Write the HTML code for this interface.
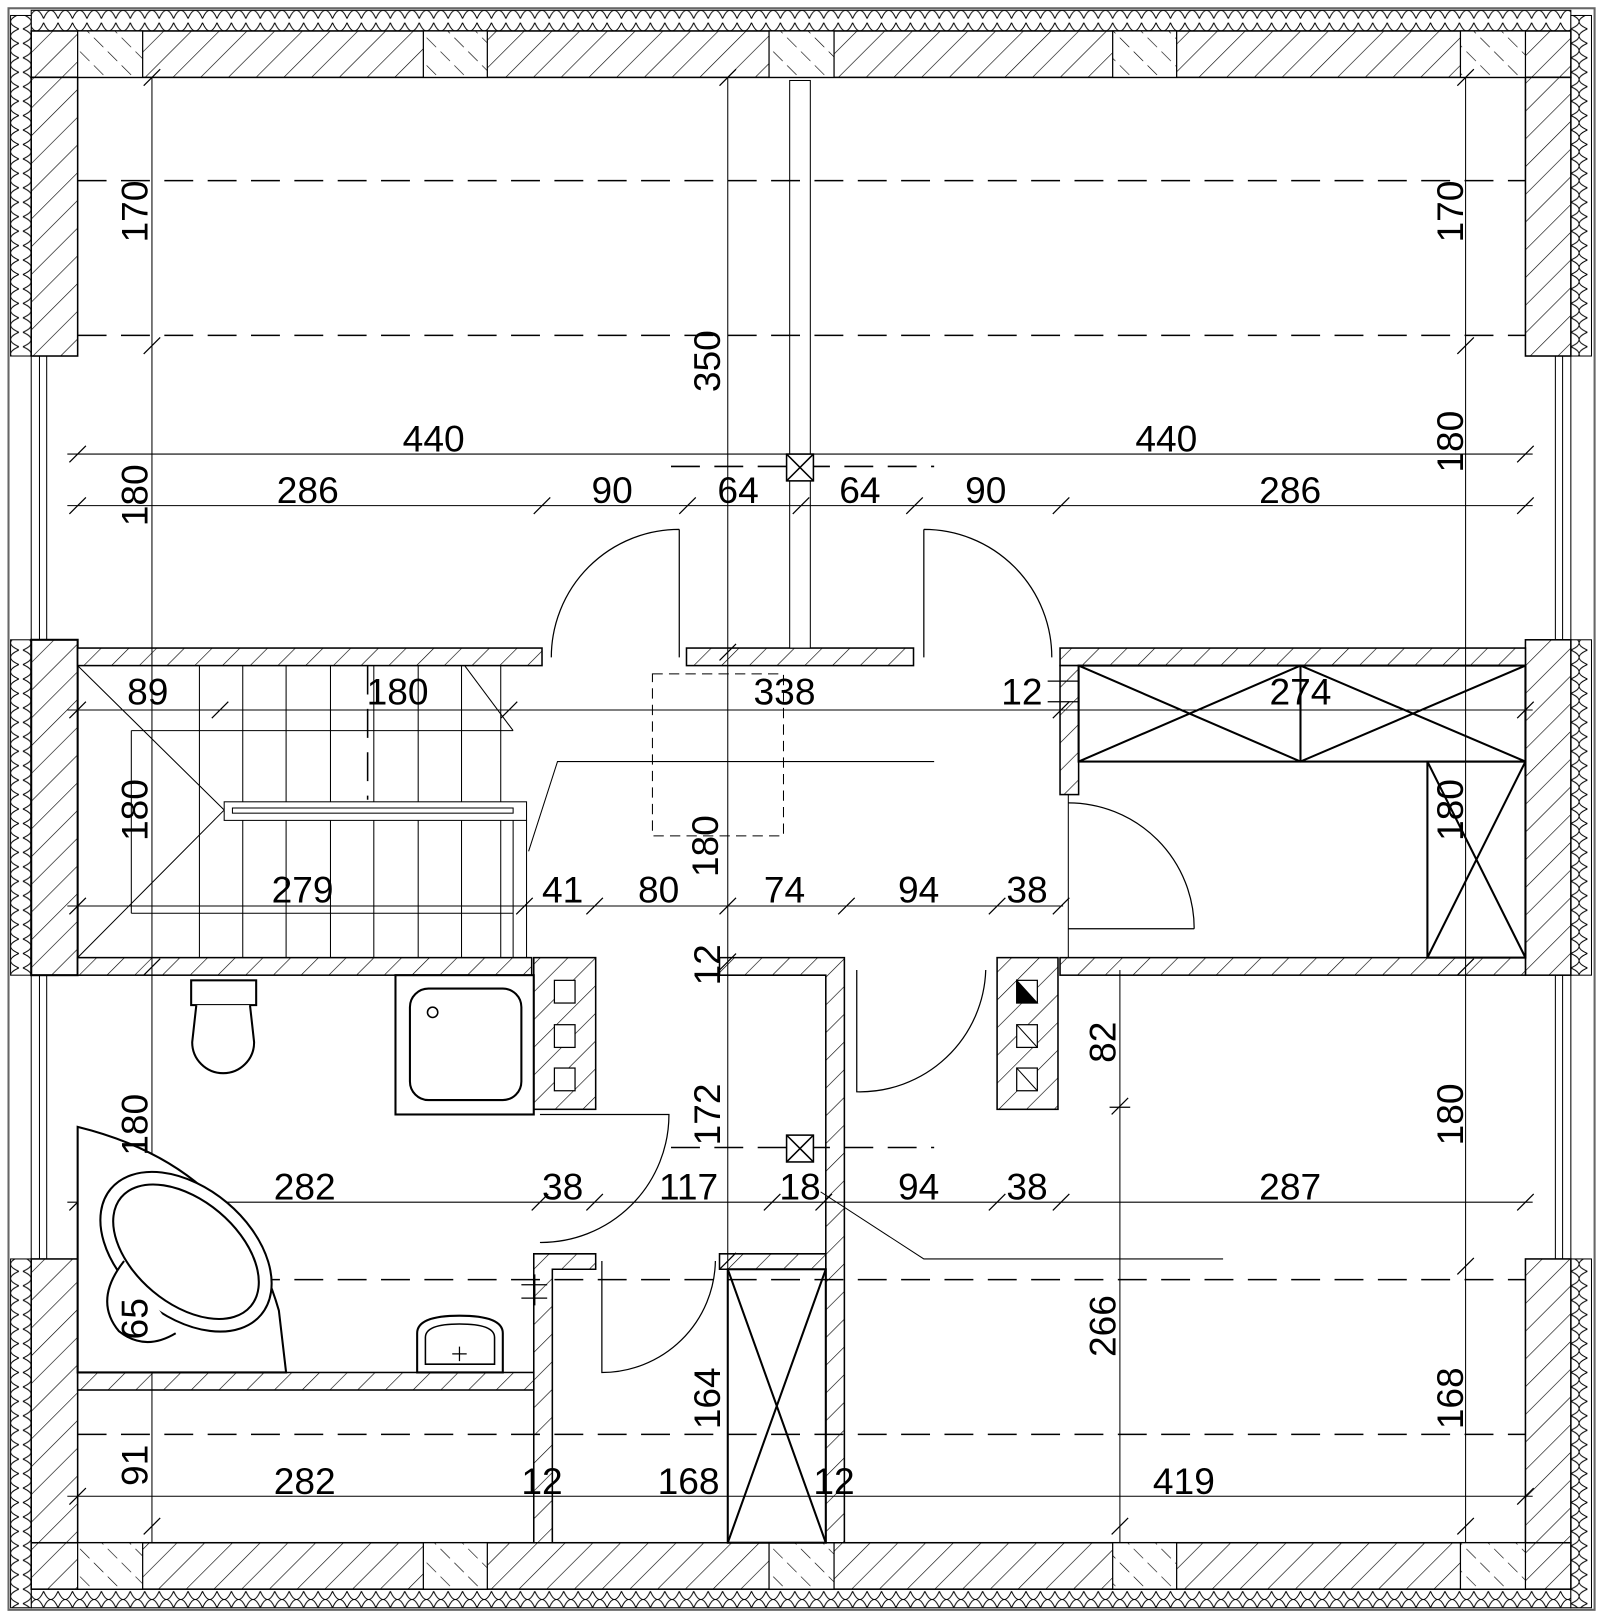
<!DOCTYPE html>
<html><head><meta charset="utf-8"><style>
html,body{margin:0;padding:0;background:#fff}
svg{display:block}
text{font-family:"Liberation Sans",sans-serif;font-size:36px;fill:#000;text-anchor:middle;dominant-baseline:central}
</style></head><body>
<svg width="1600" height="1616" viewBox="0 0 1550 1566" xmlns="http://www.w3.org/2000/svg">
<defs>
<pattern id="h" width="19" height="19" patternUnits="userSpaceOnUse" patternTransform="rotate(45)">
<rect width="19" height="19" fill="#fff"/><line x1="0" y1="0" x2="0" y2="19" stroke="#000" stroke-width="1.2"/></pattern>
<pattern id="h2" width="19" height="19" patternUnits="userSpaceOnUse" patternTransform="rotate(-45)">
<rect width="19" height="19" fill="#fff"/><line x1="0" y1="0" x2="0" y2="19" stroke="#000" stroke-width="1.2" stroke-dasharray="8 6"/></pattern>
<pattern id="ins" width="14" height="20" patternUnits="userSpaceOnUse">
<rect width="14" height="20" fill="#fff"/><path d="M0 2 Q7 18 14 2 M0 18 Q7 2 14 18" stroke="#000" fill="none" stroke-width="1"/></pattern>
<pattern id="insv" width="20" height="14" patternUnits="userSpaceOnUse">
<rect width="20" height="14" fill="#fff"/><path d="M2 0 Q18 7 2 14 M18 0 Q2 7 18 14" stroke="#000" fill="none" stroke-width="1"/></pattern>
</defs>
<g stroke="#000" fill="none">
<rect x="8" y="8" width="1537" height="1552" stroke="#666" stroke-width="2"/>
<rect x="30" y="10" width="1492" height="20" fill="url(#ins)"/>
<rect x="30" y="1540" width="1492" height="18" fill="url(#ins)"/>
<rect x="10" y="15" width="20" height="330" fill="url(#insv)"/>
<rect x="10" y="620" width="20" height="325" fill="url(#insv)"/>
<rect x="10" y="1220" width="20" height="338" fill="url(#insv)"/>
<rect x="1522" y="15" width="20" height="330" fill="url(#insv)"/>
<rect x="1522" y="620" width="20" height="325" fill="url(#insv)"/>
<rect x="1522" y="1220" width="20" height="338" fill="url(#insv)"/>
<rect x="30" y="30" width="1492" height="45" fill="url(#h)" stroke-width="1.5"/>
<rect x="30" y="1495" width="1492" height="45" fill="url(#h)" stroke-width="1.5"/>
<rect x="30" y="75" width="45" height="270" fill="url(#h)" stroke-width="1.5"/>
<rect x="1478" y="75" width="44" height="270" fill="url(#h)" stroke-width="1.5"/>
<rect x="30" y="620" width="45" height="325" fill="url(#h)" stroke-width="2"/>
<rect x="1478" y="620" width="44" height="325" fill="url(#h)" stroke-width="1.5"/>
<rect x="30" y="1220" width="45" height="275" fill="url(#h)" stroke-width="1.5"/>
<rect x="1478" y="1220" width="44" height="275" fill="url(#h)" stroke-width="1.5"/>
<g fill="url(#h2)" stroke-width="1.2">
<rect x="75" y="30" width="63" height="45"/><rect x="410" y="30" width="62" height="45"/><rect x="745" y="30" width="63" height="45"/><rect x="1078" y="30" width="62" height="45"/><rect x="1415" y="30" width="63" height="45"/>
<rect x="75" y="1495" width="63" height="45"/><rect x="410" y="1495" width="62" height="45"/><rect x="745" y="1495" width="63" height="45"/><rect x="1078" y="1495" width="62" height="45"/><rect x="1415" y="1495" width="63" height="45"/>
</g>
<g stroke-width="1"><rect x="30" y="345" width="15" height="275"/><line x1="38" y1="345" x2="38" y2="620"/>
<rect x="30" y="945" width="15" height="275"/><line x1="38" y1="945" x2="38" y2="1220"/>
<rect x="1507" y="345" width="15" height="275"/><line x1="1514" y1="345" x2="1514" y2="620"/>
<rect x="1507" y="945" width="15" height="275"/><line x1="1514" y1="945" x2="1514" y2="1220"/></g>
<g fill="url(#h)" stroke-width="1.5">
<rect x="75" y="628" width="450" height="17"/>
<rect x="665" y="628" width="220" height="17"/>
<rect x="1027" y="628" width="451" height="17"/>
<rect x="1027" y="645" width="18" height="125"/>
<rect x="75" y="928" width="440" height="17"/>
<rect x="1027" y="928" width="451" height="17"/>
<rect x="517" y="928" width="60" height="147"/>
<rect x="966" y="928" width="59" height="147"/>
<path d="M697 928 H818 V1495 H800 V945 H697 Z"/>
<path d="M697 1215 H800 V1230 H697 Z"/>
<path d="M517 1215 H577 V1230 H535 V1495 H517 Z"/>
<rect x="75" y="1330" width="442" height="17"/>
</g>
<rect x="765" y="78" width="20" height="550" fill="#fff" stroke-width="1"/>
<line x1="1035" y1="770" x2="1035" y2="928" stroke-width="1"/>
<g stroke-width="1.2" fill="#fff"><rect x="537" y="950" width="20" height="22"/><rect x="537" y="993" width="20" height="22"/><rect x="537" y="1035" width="20" height="22"/>
<rect x="985" y="950" width="20" height="22"/><rect x="985" y="993" width="20" height="22"/><rect x="985" y="1035" width="20" height="22"/></g>
<path d="M985 950 L1005 972 H985 Z" fill="#000"/>
<path d="M985 993 L1005 1015 M985 1035 L1005 1057" stroke-width="1"/>
<g stroke-width="2"><rect x="1045" y="645" width="433" height="93"/>
<path d="M1045 645 L1260 738 L1478 645 M1045 738 L1260 645 L1478 738 M1260 645 V738"/>
<rect x="1383" y="738" width="95" height="190"/><path d="M1383 738 L1478 928 M1478 738 L1383 928"/>
<rect x="705" y="1230" width="95" height="265"/><path d="M705 1230 L800 1495 M800 1230 L705 1495"/></g>
<g stroke-width="1.5" stroke-dasharray="28 14">
<line x1="75" y1="175" x2="1478" y2="175"/><line x1="75" y1="325" x2="1478" y2="325"/>
<line x1="75" y1="1240" x2="1478" y2="1240"/><line x1="75" y1="1390" x2="1478" y2="1390"/>
<line x1="650" y1="452" x2="905" y2="452"/><line x1="650" y1="1112" x2="905" y2="1112"/>
<line x1="356" y1="645" x2="356" y2="775"/>
</g>
<rect x="632" y="653" width="127" height="157" stroke-dasharray="10 6" stroke-width="1"/>
<g stroke-width="1.5" fill="#fff"><rect x="762" y="440" width="26" height="26"/><path d="M762 440 L788 466 M788 440 L762 466"/>
<rect x="762" y="1100" width="26" height="26"/><path d="M762 1100 L788 1126 M788 1100 L762 1126"/></g>
<g stroke-width="1">
<path d="M75 645 L217 785 L75 928"/>
<path d="M193 645V928 M235 645V928 M277 645V928 M320 645V928 M362 645V928 M405 645V928 M447 645V928 M485 645V928"/>
<path d="M127 708 H497 M127 885 H497 M127 708 V885"/>
<path d="M450 645 L497 708"/>
<rect x="217" y="777" width="293" height="18" fill="#fff"/><rect x="225" y="783" width="272" height="5"/>
<line x1="497" y1="795" x2="497" y2="928"/><line x1="510" y1="795" x2="510" y2="928"/>
<path d="M512 825 L540 738 H905"/>
<path d="M795 1155 L895 1220 H1185"/>
</g>
<g stroke-width="1">
<line x1="147" y1="75" x2="147" y2="1495"/><line x1="1420" y1="75" x2="1420" y2="1495"/>
<line x1="705" y1="75" x2="705" y2="1495"/><line x1="1085" y1="940" x2="1085" y2="1495"/>
<line x1="65" y1="440" x2="1485" y2="440"/><line x1="65" y1="490" x2="1485" y2="490"/>
<line x1="65" y1="688" x2="1485" y2="688"/><line x1="65" y1="878" x2="1030" y2="878"/>
<line x1="65" y1="1165" x2="1485" y2="1165"/><line x1="65" y1="1450" x2="1485" y2="1450"/>
<g stroke-width="1.2">
<path d="M67 448l16-16M67 498l16-16M517 498l16-16M658 498l16-16M768 498l16-16M878 498l16-16M1020 498l16-16M1470 498l16-16M1470 448l16-16M67 696l16-16M205 696l16-16M485 696l16-16M1020 696l16-16M1470 696l16-16M67 886l16-16M500 886l16-16M568 886l16-16M697 886l16-16M812 886l16-16M958 886l16-16M1020 886l16-16M67 1173l16-16M515 1173l16-16M568 1173l16-16M740 1173l16-16M790 1173l16-16M958 1173l16-16M1020 1173l16-16M1470 1173l16-16M67 1458l16-16M1470 1458l16-16"/>
<path d="M139 83l16-16M139 343l16-16M139 945l16-16M139 1235l16-16M139 1487l16-16M1412 83l16-16M1412 343l16-16M1412 945l16-16M1412 1235l16-16M1412 1487l16-16M697 83l16-16M697 640l16-16M697 940l16-16M697 1230l16-16M1077 1080l16-16M1077 1487l16-16"/>
<path d="M1075 1073h20M1015 660h30M1015 680h30M505 1245h25M505 1258h25M518 1235v30"/>
</g>
</g>
<g stroke-width="1.2">
<path d="M658 513 V637 M658 513 A124 124 0 0 0 534 637"/>
<path d="M895 513 V637 M895 513 A124 124 0 0 1 1019 637"/>
<path d="M1035 778 A122 122 0 0 1 1157 900 M1035 900 H1157"/>
<path d="M523 1080 H648 A124 124 0 0 1 523 1204"/>
<path d="M830 940 V1058 A122 122 0 0 0 955 940"/>
<path d="M583 1222 V1330 A110 110 0 0 0 693 1222"/>
</g>
<g stroke-width="2" fill="#fff">
<rect x="185" y="950" width="63" height="24"/>
<path d="M190 974 L186 1010 A30 30 0 0 0 246 1010 L242 974"/>
<rect x="383" y="945" width="134" height="135"/>
<rect x="397" y="958" width="108" height="108" rx="18"/>
<circle cx="419" cy="981" r="5" stroke-width="1.5"/>
<path d="M75 1092 V1330 H277 L270 1270 Q230 1130 75 1092 Z"/>
<ellipse cx="180" cy="1213" rx="95" ry="62" transform="rotate(40 180 1213)"/>
<ellipse cx="180" cy="1213" rx="82" ry="50" transform="rotate(40 180 1213)"/>
<path d="M120 1222 Q90 1260 115 1290 Q140 1310 170 1292"/>
<path d="M404 1330 V1292 Q404 1275 445 1275 Q487 1275 487 1292 V1330 Z"/>
<path d="M412 1322 V1296 Q412 1283 445 1283 Q479 1283 479 1296 V1322 Z" stroke-width="1.5"/>
<path d="M445 1305 v14 M438 1312 h14" stroke-width="1.2"/>
</g>
</g>
<g>
<text x="420" y="425">440</text><text x="1130" y="425">440</text>
<text x="298" y="475">286</text><text x="593" y="475">90</text><text x="715" y="475">64</text><text x="833" y="475">64</text><text x="955" y="475">90</text><text x="1250" y="475">286</text>
<text x="143" y="670">89</text><text x="385" y="670">180</text><text x="760" y="670">338</text><text x="990" y="670">12</text><text x="1260" y="670">274</text>
<text x="293" y="862">279</text><text x="545" y="862">41</text><text x="638" y="862">80</text><text x="760" y="862">74</text><text x="890" y="862">94</text><text x="995" y="862">38</text>
<text x="295" y="1150">282</text><text x="545" y="1150">38</text><text x="667" y="1150">117</text><text x="775" y="1150">18</text><text x="890" y="1150">94</text><text x="995" y="1150">38</text><text x="1250" y="1150">287</text>
<text x="295" y="1435">282</text><text x="525" y="1435">12</text><text x="667" y="1435">168</text><text x="808" y="1435">12</text><text x="1147" y="1435">419</text>
<text transform="translate(130,205) rotate(-90)">170</text>
<text transform="translate(1405,205) rotate(-90)">170</text>
<text transform="translate(685,350) rotate(-90)">350</text>
<text transform="translate(130,480) rotate(-90)">180</text>
<text transform="translate(1405,428) rotate(-90)">180</text>
<text transform="translate(130,785) rotate(-90)">180</text>
<text transform="translate(1405,785) rotate(-90)">180</text>
<text transform="translate(683,820) rotate(-90)">180</text>
<text transform="translate(685,935) rotate(-90)">12</text>
<text transform="translate(1068,1010) rotate(-90)">82</text>
<text transform="translate(685,1080) rotate(-90)">172</text>
<text transform="translate(130,1090) rotate(-90)">180</text>
<text transform="translate(1405,1080) rotate(-90)">180</text>
<text transform="translate(1068,1285) rotate(-90)">266</text>
<text transform="translate(130,1278) rotate(-90)">65</text>
<text transform="translate(685,1355) rotate(-90)">164</text>
<text transform="translate(1405,1355) rotate(-90)">168</text>
<text transform="translate(130,1420) rotate(-90)">91</text>
</g>
</svg>
</body></html>
